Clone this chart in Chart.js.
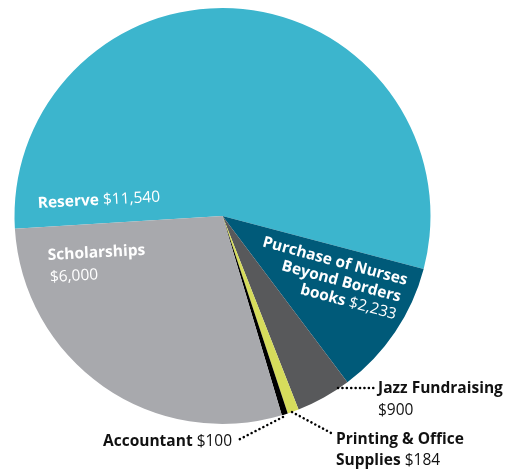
<!DOCTYPE html>
<html>
<head>
<meta charset="utf-8">
<script src="https://cdn.jsdelivr.net/npm/chart.js@4/dist/chart.umd.min.js"></script>
<style>
  html, body { margin: 0; padding: 0; background: #fff; }
  #wrap { width: 509px; height: 469px; }
</style>
</head>
<body>
<div id="wrap"><canvas id="pie"></canvas></div>
<script>
// chart data
var categories = ['Reserve', 'Purchase of Nurses Beyond Borders books', 'Jazz Fundraising',
                  'Printing & Office Supplies', 'Accountant', 'Scholarships'];
var amounts = [11540, 2233, 900, 184, 100, 6000];
var sliceColors = ['#3cb5cd', '#005a79', '#58595b', '#d6dc5c', '#000000', '#a8a9ad'];

function money(v) {
    return '$' + v.toLocaleString('en-US');
}

var FONT = '"Open Sans", Lato, sans-serif';
var SIZE = '15.5px ';

// draw a line made of bold / regular pieces
function richText(ctx, parts, x, y, align) {
    var total = 0;
    parts.forEach(function (p) {
        ctx.font = (p.b ? 'bold ' : '') + SIZE + FONT;
        p.w = ctx.measureText(p.t).width;
        total += p.w;
    });
    var cx = align === 'right' ? x - total : x;
    parts.forEach(function (p) {
        ctx.font = (p.b ? 'bold ' : '') + SIZE + FONT;
        ctx.fillText(p.t, cx, y);
        cx += p.w;
    });
}

function dotted(ctx, x1, y1, x2, y2) {
    ctx.save();
    ctx.strokeStyle = '#000';
    ctx.lineWidth = 2.5;
    ctx.lineCap = 'round';
    ctx.setLineDash([0.1, 4.3]);
    ctx.beginPath();
    ctx.moveTo(x1, y1);
    ctx.lineTo(x2, y2);
    ctx.stroke();
    ctx.restore();
}

// labels inside and outside the pie
var labelPlugin = {
    id: 'pieLabels',
    afterDatasetsDraw: function (chart) {
        var ctx = chart.ctx;
        ctx.save();
        ctx.textBaseline = 'alphabetic';
        ctx.textAlign = 'left';

        // Reserve
        ctx.fillStyle = '#fff';
        ctx.save();
        ctx.translate(38, 208);
        ctx.rotate(-3 * Math.PI / 180);
        richText(ctx, [{t: categories[0], b: true}, {t: ' ' + money(amounts[0])}], 0, 0);
        ctx.restore();

        // Scholarships
        ctx.save();
        ctx.translate(48, 260);
        ctx.rotate(-3 * Math.PI / 180);
        richText(ctx, [{t: categories[5], b: true}], 0, 0);
        richText(ctx, [{t: money(amounts[5])}], 1, 22);
        ctx.restore();

        // Purchase of Nurses...
        ctx.save();
        ctx.translate(406, 285);
        ctx.rotate(15 * Math.PI / 180);
        richText(ctx, [{t: 'Purchase of Nurses', b: true}], 0, 0, 'right');
        richText(ctx, [{t: 'Beyond Borders', b: true}], -2, 18, 'right');
        richText(ctx, [{t: 'books', b: true}, {t: ' ' + money(amounts[1])}], -2, 36, 'right');
        ctx.restore();

        // outside labels
        ctx.fillStyle = '#111';
        richText(ctx, [{t: categories[2], b: true}], 378, 393);
        richText(ctx, [{t: money(amounts[2])}], 378, 415);
        richText(ctx, [{t: 'Printing & Office', b: true}], 336, 444);
        richText(ctx, [{t: 'Supplies', b: true}, {t: ' ' + money(amounts[3])}], 336, 465);
        richText(ctx, [{t: categories[4], b: true}, {t: ' ' + money(amounts[4])}], 103, 446);

        dotted(ctx, 338, 388, 376, 388);
        dotted(ctx, 292, 412, 333, 434);
        dotted(ctx, 283, 417, 238, 440);
        ctx.restore();
    }
};

var ctx = document.getElementById('pie').getContext('2d');
var pieChart = new Chart(ctx, {
    type: 'pie',
    data: {
        labels: categories,
        datasets: [{
            data: amounts,
            backgroundColor: sliceColors,
            borderWidth: 0,
            hoverOffset: 0
        }]
    },
    options: {
        responsive: true,
        maintainAspectRatio: false,
        animation: false,
        rotation: 266.5,
        layout: {
            padding: { left: 14.5, top: 8, right: 78.5, bottom: 45 }
        },
        plugins: {
            legend: { display: false },
            tooltip: { enabled: false }
        }
    },
    plugins: [labelPlugin]
});
</script>
</body>
</html>
